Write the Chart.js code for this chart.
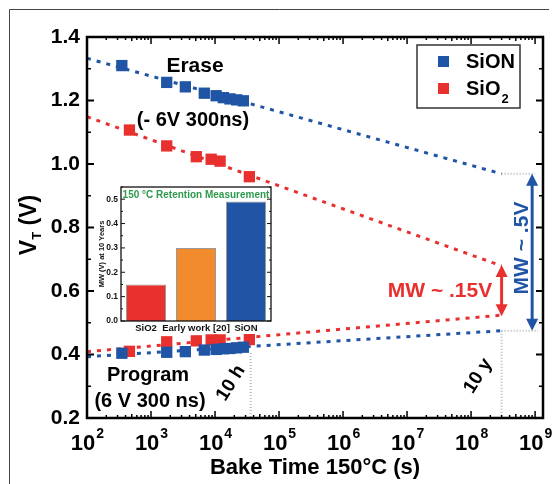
<!DOCTYPE html>
<html>
<head>
<meta charset="utf-8">
<style>
    html, body { margin: 0; padding: 0; background: #fff; }
    #wrap { position: relative; width: 553px; height: 484px; }
    #main { position: absolute; left: 0; top: 0; }
    #inset { position: absolute; left: 95px; top: 184px; }
</style>
<script src="https://cdn.jsdelivr.net/npm/chart.js@4.4.1/dist/chart.umd.min.js"></script>
</head>
<body>
<div id="wrap">
    <canvas id="main" width="553" height="484"></canvas>
    <canvas id="inset" width="181" height="150"></canvas>
</div>
<script>
// bake time (s) / threshold voltage (V)
const eraseSiONTime = [350, 1760, 3440, 6800, 10400, 13500, 17100, 21800, 27700];
const eraseSiONVt = [1.31, 1.257, 1.243, 1.223, 1.215, 1.209, 1.205, 1.202, 1.199];
const progSiONTime = [350, 1760, 3440, 6800, 10400, 13500, 17100, 21800, 27700];
const progSiONVt = [0.404, 0.407, 0.409, 0.414, 0.416, 0.418, 0.419, 0.421, 0.423];

const eraseSiO2Time = [460, 1760, 5100, 8700, 12000, 34400];
const eraseSiO2Vt = [1.107, 1.057, 1.023, 1.015, 1.009, 0.960];
const progSiO2Time = [460, 1760, 5100, 8700, 12000, 34400];
const progSiO2Vt = [0.410, 0.440, 0.443, 0.446, 0.446, 0.447];

// extrapolation to 10 years
const fitTime = [100, 3e8];
const fitEraseSiON = [1.333, 0.969];
const fitEraseSiO2 = [1.149, 0.679];
const fitProgSiO2 = [0.409, 0.524];
const fitProgSiON = [0.393, 0.475];

const tenHours = 36000;
const tenYears = 3e8;
const mwArrowTime = 9e8;

const xDecades = [2, 3, 4, 5, 6, 7, 8, 9];
const yTicks = [0.2, 0.4, 0.6, 0.8, 1.0, 1.2, 1.4];

// inset bar chart
const insetCategories = ["SiO2", "Early work [20]", "SiON"];
const insetValues = [0.15, 0.30, 0.49];
const insetTicks = [0, 0.1, 0.2, 0.3, 0.4, 0.5];

const BLUE = "#2054a5";
const RED = "#e8302f";
const FONT = '"Liberation Sans", Arial, sans-serif';
const f = (size) => `bold ${size}px ${FONT}`;

const pts = (xs, ys) => xs.map((x, i) => ({ x, y: ys[i] }));

function line(ctx, x1, y1, x2, y2) {
    ctx.beginPath();
    ctx.moveTo(x1, y1);
    ctx.lineTo(x2, y2);
    ctx.stroke();
}

// vertical double arrow
function dArrow(ctx, x, y1, y2, color) {
    const head = 12, hw = 6;
    ctx.save();
    ctx.strokeStyle = color;
    ctx.fillStyle = color;
    ctx.lineWidth = 3;
    line(ctx, x, y1 + head - 2, x, y2 - head + 2);
    ctx.beginPath();
    ctx.moveTo(x, y1); ctx.lineTo(x - hw, y1 + head); ctx.lineTo(x + hw, y1 + head);
    ctx.closePath(); ctx.fill();
    ctx.beginPath();
    ctx.moveTo(x, y2); ctx.lineTo(x - hw, y2 - head); ctx.lineTo(x + hw, y2 - head);
    ctx.closePath(); ctx.fill();
    ctx.restore();
}

function rotText(ctx, text, x, y, deg, font, color) {
    ctx.save();
    ctx.translate(x, y);
    ctx.rotate(deg * Math.PI / 180);
    ctx.font = font;
    ctx.fillStyle = color;
    ctx.textAlign = "center";
    ctx.textBaseline = "middle";
    ctx.fillText(text, 0, 0);
    ctx.restore();
}

// guide lines drawn under the data
const guidePlugin = {
    id: "guides",
    beforeDatasetsDraw(chart) {
        const { ctx, scales: { x, y } } = chart;
        const xe = x.getPixelForValue(tenYears);
        const xa = x.getPixelForValue(mwArrowTime);
        const xh = x.getPixelForValue(tenHours);
        ctx.save();
        ctx.strokeStyle = "#b8b8b8";
        ctx.lineWidth = 2;
        ctx.setLineDash([1, 2]);
        line(ctx, xe, y.getPixelForValue(fitEraseSiON[1]), xa + 3, y.getPixelForValue(fitEraseSiON[1]));
        line(ctx, xe, y.getPixelForValue(fitProgSiON[1]), xa + 6, y.getPixelForValue(fitProgSiON[1]));
        line(ctx, xe, y.getPixelForValue(fitProgSiON[1]), xe, y.getPixelForValue(0.2));
        line(ctx, xh, y.getPixelForValue(0.405), xh, y.getPixelForValue(0.2));
        ctx.restore();
    },
};

// frame, ticks, labels and annotations
const decorPlugin = {
    id: "decor",
    afterDraw(chart) {
        const { ctx, chartArea: a, scales: { x, y } } = chart;
        ctx.save();

        // outer picture frame
        ctx.strokeStyle = "#444";
        ctx.lineWidth = 1;
        line(ctx, 9.5, 484, 9.5, 9.5);
        line(ctx, 9.5, 9.5, 549, 9.5);

        // axis box
        ctx.strokeStyle = "#000";
        ctx.lineWidth = 2.5;
        ctx.strokeRect(a.left, a.top, a.right - a.left, a.bottom - a.top);

        // log ticks
        ctx.lineWidth = 1.5;
        xDecades.forEach((e) => {
            for (let m = 1; m <= 9; m++) {
                const v = m * Math.pow(10, e);
                if (v > x.max) break;
                const px = x.getPixelForValue(v);
                const len = m === 1 ? 7 : (m === 5 ? 4 : 3);
                line(ctx, px, a.bottom, px, a.bottom - len);
                line(ctx, px, a.top, px, a.top + len);
            }
        });
        for (let v = 0.3; v < 1.4; v += 0.2) {
            const py = y.getPixelForValue(v);
            line(ctx, a.left, py, a.left + 4, py);
            line(ctx, a.right, py, a.right - 4, py);
        }
        ctx.lineWidth = 2;
        yTicks.forEach((v) => {
            const py = y.getPixelForValue(v);
            line(ctx, a.left, py, a.left + 7, py);
            line(ctx, a.right, py, a.right - 7, py);
        });

        // tick labels
        ctx.fillStyle = "#000";
        ctx.font = f(21);
        ctx.textAlign = "right";
        ctx.textBaseline = "middle";
        yTicks.forEach((v) => ctx.fillText(v.toFixed(1), a.left - 7, y.getPixelForValue(v)));

        ctx.textBaseline = "alphabetic";
        ctx.textAlign = "left";
        xDecades.forEach((e) => {
            const px = x.getPixelForValue(Math.pow(10, e));
            ctx.font = f(22);
            const w1 = ctx.measureText("10").width;
            ctx.font = f(14);
            const w2 = ctx.measureText(String(e)).width;
            const x0 = px - (w1 + w2) / 2;
            ctx.font = f(22);
            ctx.fillText("10", x0, 450);
            ctx.font = f(14);
            ctx.fillText(String(e), x0 + w1 + 1, 438);
        });

        // axis titles
        ctx.font = f(22);
        ctx.textAlign = "center";
        ctx.fillText("Bake Time 150°C (s)", 315, 474);

        ctx.save();
        ctx.translate(36, 225);
        ctx.rotate(-Math.PI / 2);
        ctx.textAlign = "left";
        ctx.font = f(23);
        const wV = ctx.measureText("V").width;
        ctx.font = f(13);
        const wT = ctx.measureText("T").width;
        ctx.font = f(23);
        const wR = ctx.measureText(" (V)").width;
        const sx = -(wV + wT + wR) / 2;
        ctx.fillText("V", sx, 0);
        ctx.font = f(13);
        ctx.fillText("T", sx + wV, 5);
        ctx.font = f(23);
        ctx.fillText(" (V)", sx + wV + wT, 0);
        ctx.restore();

        // legend
        ctx.strokeStyle = "#333";
        ctx.lineWidth = 1.5;
        ctx.strokeRect(417, 45, 103, 63);
        ctx.fillStyle = BLUE;
        ctx.fillRect(438, 56, 11, 11);
        ctx.fillStyle = RED;
        ctx.fillRect(438, 83, 11, 11);
        ctx.fillStyle = "#000";
        ctx.font = f(20);
        ctx.textAlign = "left";
        ctx.textBaseline = "middle";
        ctx.fillText("SiON", 466, 62);
        ctx.fillText("SiO", 466, 89);
        const wSiO = ctx.measureText("SiO").width;
        ctx.font = f(13);
        ctx.fillText("2", 466 + wSiO + 1, 99);

        // annotations
        ctx.textAlign = "center";
        ctx.font = f(21);
        ctx.fillText("Erase", 195, 66);
        ctx.font = f(20);
        ctx.fillText("(- 6V 300ns)", 193, 120);
        ctx.fillText("Program", 148, 375);
        ctx.fillText("(6 V 300 ns)", 150, 401);

        rotText(ctx, "10 h", 231, 383, -58, f(19), "#000");
        rotText(ctx, "10 y", 478, 376, -58, f(19), "#000");

        const xe = x.getPixelForValue(tenYears);
        const xa = x.getPixelForValue(mwArrowTime);
        dArrow(ctx, xe, y.getPixelForValue(fitEraseSiO2[1]) - 1, y.getPixelForValue(fitProgSiO2[1]) + 1, RED);
        dArrow(ctx, xa, y.getPixelForValue(fitEraseSiON[1]), y.getPixelForValue(fitProgSiON[1]), BLUE);

        ctx.font = f(21);
        ctx.fillStyle = RED;
        ctx.textAlign = "center";
        ctx.fillText("MW ~ .15V", 440, 291);
        rotText(ctx, "MW ~ .5V", 522, 248, -90, f(21), BLUE);

        ctx.restore();
    },
};

const pointSet = (label, data, color, order) => ({
    label, data,
    backgroundColor: color,
    borderColor: color,
    pointStyle: "rect",
    pointRadius: 8,
    pointHoverRadius: 8,
    borderWidth: 0,
    showLine: false,
    order,
});

const fitSet = (data, color) => ({
    data,
    borderColor: color,
    borderWidth: 3,
    borderDash: [4, 6],
    pointRadius: 0,
    showLine: true,
    fill: false,
    order: 5,
});

new Chart(document.getElementById("main"), {
    type: "scatter",
    data: {
        datasets: [
            pointSet("SiON erase", pts(eraseSiONTime, eraseSiONVt), BLUE, 0),
            pointSet("SiON program", pts(progSiONTime, progSiONVt), BLUE, 0),
            pointSet("SiO2 erase", pts(eraseSiO2Time, eraseSiO2Vt), RED, 1),
            pointSet("SiO2 program", pts(progSiO2Time, progSiO2Vt), RED, 1),
            fitSet(pts(fitTime, fitEraseSiON), BLUE),
            fitSet(pts(fitTime, fitProgSiON), BLUE),
            fitSet(pts(fitTime, fitEraseSiO2), RED),
            fitSet(pts(fitTime, fitProgSiO2), RED),
        ],
    },
    options: {
        responsive: false,
        animation: false,
        layout: { padding: { left: 87, right: 10, top: 37, bottom: 66 } },
        plugins: { legend: { display: false }, tooltip: { enabled: false } },
        scales: {
            x: { type: "logarithmic", min: 100, max: 1.33e9, display: false },
            y: { type: "linear", min: 0.2, max: 1.4, display: false },
        },
    },
    plugins: [guidePlugin, decorPlugin],
});

// inset: white panel, box, ticks, labels
const insetPlugin = {
    id: "insetDecor",
    beforeDraw(chart) {
        const { ctx, chartArea: a } = chart;
        ctx.save();
        ctx.fillStyle = "#fff";
        ctx.fillRect(0, a.top, a.right + 1, chart.height - a.top);
        ctx.restore();
    },
    afterDraw(chart) {
        const { ctx, chartArea: a, scales: { x, y } } = chart;
        ctx.save();
        ctx.strokeStyle = "#111";
        ctx.lineWidth = 1.3;
        ctx.strokeRect(a.left, a.top, a.right - a.left, a.bottom - a.top);
        ctx.lineWidth = 1;
        for (let v = 0; v <= 0.55; v += 0.05) {
            const py = y.getPixelForValue(v);
            const len = Math.round(v * 100) % 10 === 0 ? 4 : 2;
            line(ctx, a.left, py, a.left + len, py);
            line(ctx, a.right, py, a.right - len, py);
        }
        ctx.fillStyle = "#111";
        ctx.font = f(8.5);
        ctx.textAlign = "right";
        ctx.textBaseline = "middle";
        insetTicks.forEach((v) => ctx.fillText(v.toFixed(1), a.left - 3, y.getPixelForValue(v)));

        ctx.textAlign = "center";
        ctx.font = f(9.5);
        insetCategories.forEach((c, i) => ctx.fillText(c, x.getPixelForValue(i), a.bottom + 7));

        rotText(ctx, "MW (V) at 10 Years", 7, (a.top + a.bottom) / 2, -90, f(7.5), "#111");

        ctx.font = f(10);
        ctx.fillStyle = "#2e9a4c";
        ctx.textBaseline = "middle";
        ctx.fillText("150 °C Retention Measurement", (a.left + a.right) / 2, a.top + 8);
        ctx.restore();
    },
};

new Chart(document.getElementById("inset"), {
    type: "bar",
    data: {
        labels: insetCategories,
        datasets: [{
            data: insetValues,
            backgroundColor: [RED, "#f28a2e", BLUE],
            borderColor: "#9a9a9a",
            borderWidth: 1,
            borderSkipped: "bottom",
            barPercentage: 0.8,
            categoryPercentage: 1,
        }],
    },
    options: {
        responsive: false,
        animation: false,
        layout: { padding: { left: 26, right: 5, top: 3, bottom: 13 } },
        plugins: { legend: { display: false }, tooltip: { enabled: false } },
        scales: {
            x: { display: false },
            y: { min: 0, max: 0.55, display: false },
        },
    },
    plugins: [insetPlugin],
});
</script>
</body>
</html>
